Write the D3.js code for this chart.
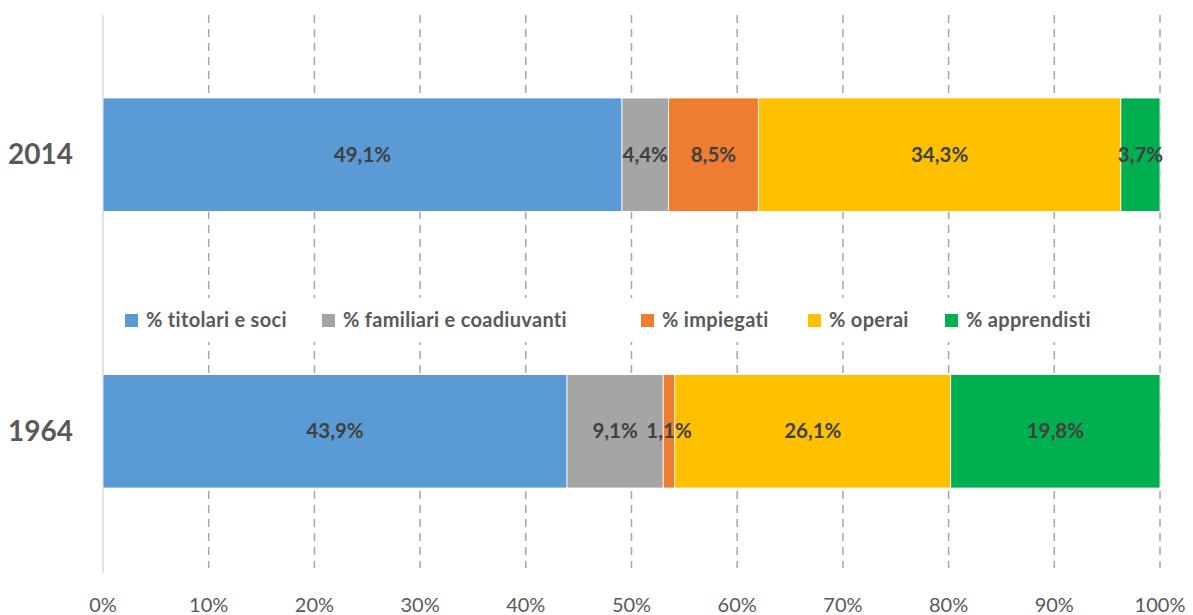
<!DOCTYPE html>
<html>
<head>
<meta charset="utf-8">
<script src="https://cdn.jsdelivr.net/npm/d3@7"></script>
<style>
  body { margin: 0; background: #fff; }
  svg { display: block; font-family: Lato, "Open Sans", sans-serif; }
</style>
</head>
<body>
<svg id="chart" width="1193" height="615"></svg>
<script>
// chart data
var years = ['2014', '1964']
var seriesNames = ['% titolari e soci', '% familiari e coadiuvanti', '% impiegati', '% operai', '% apprendisti']
var values2014 = [49.1, 4.4, 8.5, 34.3, 3.7]
var values1964 = [43.9, 9.1, 1.1, 26.1, 19.8]
var seriesColors = ['#5B9BD5', '#A5A5A5', '#ED7D31', '#FFC000', '#00B050']
var tickValues = [0, 10, 20, 30, 40, 50, 60, 70, 80, 90, 100]

var svg = d3.select('#chart')
var plotLeft = 103, plotRight = 1160, plotTop = 15, plotBottom = 571

var x = d3.scaleLinear().domain([0, 100]).range([plotLeft, plotRight])
var y = d3.scaleBand().domain(years).range([plotTop, plotBottom]).paddingInner(0.59).paddingOuter(0.3)

var color = d3.scaleOrdinal().domain(seriesNames).range(seriesColors)

// build rows for the stack
var rows = years.map(function (yr, i) {
  var vals = i === 0 ? values2014 : values1964
  var row = { year: yr }
  seriesNames.forEach(function (s, j) { row[s] = vals[j] })
  return row
})
var stacked = d3.stack().keys(seriesNames)(rows)

// gridlines
svg.append('g')
  .selectAll('line')
  .data(tickValues.slice(1))
  .join('line')
  .attr('x1', d => x(d)).attr('x2', d => x(d))
  .attr('y1', plotTop).attr('y2', plotBottom - 3)
  .attr('stroke', '#A6A6A6')
  .attr('stroke-width', 1.5)
  .attr('stroke-dasharray', '8,6')

// left axis line
svg.append('line')
  .attr('x1', plotLeft).attr('x2', plotLeft)
  .attr('y1', plotTop).attr('y2', plotBottom + 2)
  .attr('stroke', '#D9D9D9').attr('stroke-width', 1.5)

// bars
svg.append('g')
  .selectAll('g')
  .data(stacked)
  .join('g')
  .attr('fill', d => color(d.key))
  .selectAll('rect')
  .data(d => d)
  .join('rect')
  .attr('x', d => x(d[0]))
  .attr('y', d => y(d.data.year))
  .attr('width', d => x(d[1]) - x(d[0]))
  .attr('height', y.bandwidth())
  .attr('stroke', '#fff')
  .attr('stroke-width', 0.8)

// data labels, drawn on top of every bar
var labels = stacked.flatMap(s => s)
svg.append('g')
  .selectAll('text')
  .data(labels)
  .join('text')
  .attr('x', d => (x(d[0]) + x(d[1])) / 2)
  .attr('y', d => y(d.data.year) + y.bandwidth() / 2)
  .attr('dy', '0.35em')
  .attr('text-anchor', 'middle')
  .attr('fill', '#404040')
  .attr('font-size', 20.5)
  .attr('font-weight', 'bold')
  .text(d => d3.format('.1f')(d[1] - d[0]).replace('.', ',') + '%')

// category labels
svg.append('g')
  .selectAll('text')
  .data(years)
  .join('text')
  .attr('x', 73)
  .attr('y', d => y(d) + y.bandwidth() / 2)
  .attr('dy', '0.35em')
  .attr('text-anchor', 'end')
  .attr('fill', '#595959')
  .attr('font-size', 28)
  .attr('font-weight', 'bold')
  .text(d => d)

// x tick labels
svg.append('g')
  .selectAll('text')
  .data(tickValues)
  .join('text')
  .attr('x', d => x(d))
  .attr('y', 612)
  .attr('text-anchor', 'middle')
  .attr('fill', '#595959')
  .attr('font-size', 20)
  .text(d => d + '%')

// legend
var legendX = [125, 322, 641, 808, 945]
var legend = svg.append('g')
legend.append('rect')
  .attr('x', 115).attr('y', 298).attr('width', 1000).attr('height', 44)
  .attr('fill', '#fff')
var items = legend.selectAll('g')
  .data(seriesNames)
  .join('g')
  .attr('transform', (d, i) => 'translate(' + legendX[i] + ',320)')
items.append('rect')
  .attr('x', 0).attr('y', -6).attr('width', 13).attr('height', 13)
  .attr('fill', d => color(d))
items.append('text')
  .attr('x', 21).attr('dy', '0.35em')
  .attr('fill', '#595959')
  .attr('font-size', 20)
  .attr('font-weight', 'bold')
  .attr('letter-spacing', 0.3)
  .text(d => d)
</script>
</body>
</html>
